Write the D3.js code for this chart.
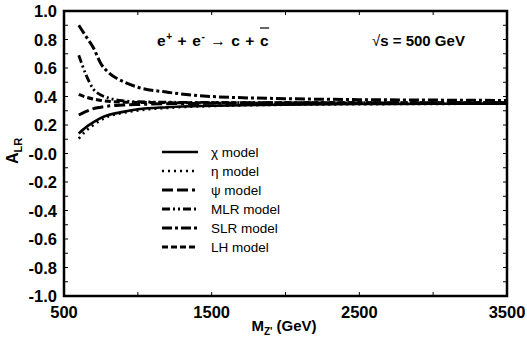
<!DOCTYPE html>
<html><head><meta charset="utf-8">
<script src="https://cdn.jsdelivr.net/npm/d3@7"></script>
<style>body{margin:0;background:#fff}svg{display:block}text{font-family:"Liberation Sans",Arial,sans-serif}</style>
</head><body><svg id="c" width="527" height="341"></svg>
<script>
const masses = [600, 650, 700, 750, 800, 900, 1000, 1200, 1500, 2000, 2500, 3000, 3500];
const chi = [0.14, 0.185, 0.22, 0.25, 0.27, 0.292, 0.31, 0.325, 0.335, 0.343, 0.347, 0.349, 0.35];
const eta = [0.105, 0.16, 0.20, 0.235, 0.26, 0.285, 0.302, 0.32, 0.333, 0.342, 0.346, 0.348, 0.35];
const psi = [0.27, 0.295, 0.315, 0.325, 0.333, 0.34, 0.344, 0.349, 0.352, 0.354, 0.355, 0.355, 0.355];
const mlr = [0.69, 0.55, 0.45, 0.41, 0.39, 0.37, 0.363, 0.36, 0.358, 0.357, 0.357, 0.356, 0.356];
const slr = [0.90, 0.82, 0.74, 0.63, 0.57, 0.505, 0.465, 0.43, 0.40, 0.385, 0.378, 0.375, 0.372];
const lh  = [0.415, 0.395, 0.382, 0.372, 0.366, 0.36, 0.358, 0.357, 0.356, 0.356, 0.356, 0.356, 0.356];
const seriesNames = ["\u03c7 model", "\u03b7 model", "\u03c8 model", "MLR model", "SLR model", "LH model"];
const xTickLabels = [500, 1500, 2500, 3500];
const yTickLabels = ["1.0","0.8","0.6","0.4","0.2","-0.0","-0.2","-0.4","-0.6","-0.8","-1.0"];
const yTickValues = [1,0.8,0.6,0.4,0.2,0,-0.2,-0.4,-0.6,-0.8,-1];

const dashes = [null, "2,4", "11,4,11,4,3,4", "8,3,2,3,2,3", "10,3,3,3", "6,3"];
const widths = [2.6, 2.6, 3, 2.8, 3, 3];
const data = [chi, eta, psi, mlr, slr, lh];

const svg = d3.select("#c");
const L = 64, R = 507, T = 11, B = 296;
const x = d3.scaleLinear().domain([500, 3500]).range([L, R]);
const y = d3.scaleLinear().domain([-1, 1]).range([B, T]);

const g = svg.append("g");
const xt = d3.range(500, 3501, 500);
const yt = d3.range(-10, 11).map(d => d / 10);
xt.forEach(v => {
  g.append("line").attr("x1", x(v)).attr("x2", x(v)).attr("y1", B).attr("y2", B - 4).attr("stroke", "#000").attr("stroke-width", 1);
  g.append("line").attr("x1", x(v)).attr("x2", x(v)).attr("y1", T).attr("y2", T + 4).attr("stroke", "#000").attr("stroke-width", 1);
});
yt.forEach(v => {
  g.append("line").attr("x1", L).attr("x2", L + 4).attr("y1", y(v)).attr("y2", y(v)).attr("stroke", "#000").attr("stroke-width", 1);
  g.append("line").attr("x1", R).attr("x2", R - 4).attr("y1", y(v)).attr("y2", y(v)).attr("stroke", "#000").attr("stroke-width", 1);
});

const line = d3.line().x((d, i) => x(masses[i])).y(d => y(d)).curve(d3.curveMonotoneX);
data.forEach((s, k) => {
  svg.append("path").datum(s).attr("d", line).attr("fill", "none").attr("stroke", "#000")
    .attr("stroke-width", widths[k]).attr("stroke-dasharray", dashes[k]);
});

svg.append("rect").attr("x", L).attr("y", T).attr("width", R - L).attr("height", B - T)
  .attr("fill", "none").attr("stroke", "#000").attr("stroke-width", 2.5);

yTickValues.forEach((v, i) => {
  svg.append("text").attr("x", 57).attr("y", y(v) + 6).attr("text-anchor", "end")
    .attr("font-size", 16.5).attr("font-weight", "bold").text(yTickLabels[i]);
});
xTickLabels.forEach(v => {
  svg.append("text").attr("x", x(v)).attr("y", 318).attr("text-anchor", "middle")
    .attr("font-size", 16.5).attr("font-weight", "bold").text(v);
});

const xl = svg.append("text").attr("x", 284).attr("y", 331).attr("text-anchor", "middle")
  .attr("font-size", 15).attr("font-weight", "bold");
xl.append("tspan").text("M");
xl.append("tspan").attr("font-size", 10).attr("dy", 4).text("Z'");
xl.append("tspan").attr("dy", -4).text(" (GeV)");

const yl = svg.append("text").attr("transform", "translate(18,164) rotate(-90)")
  .attr("font-size", 16).attr("font-weight", "bold");
yl.append("tspan").text("A");
yl.append("tspan").attr("font-size", 11).attr("dy", 4).text("LR");

const pt = svg.append("text").attr("x", 157).attr("y", 46).attr("font-size", 15.5).attr("font-weight", "bold")
  .attr("letter-spacing", 0.6);
pt.append("tspan").text("e");
pt.append("tspan").attr("font-size", 10).attr("dy", -6).text("+");
pt.append("tspan").attr("dy", 6).text(" + e");
pt.append("tspan").attr("font-size", 10).attr("dy", -6).text("-");
pt.append("tspan").attr("dy", 6).attr("font-weight", "normal").text(" \u2192 ");
pt.append("tspan").text("c + c");
const ptn = pt.node();
const nch = ptn.getNumberOfChars();
const cs = ptn.getStartPositionOfChar(nch - 1).x, ce = ptn.getEndPositionOfChar(nch - 1).x;
svg.append("line").attr("x1", cs).attr("x2", ce).attr("y1", 28).attr("y2", 28).attr("stroke", "#000").attr("stroke-width", 1.2);

const st = svg.append("text").attr("x", 372).attr("y", 46).attr("font-size", 15).attr("font-weight", "bold");
st.append("tspan").attr("font-weight", "normal").text("\u221a");
st.append("tspan").text("s = 500 GeV");

const legY = [152, 171, 190, 209, 228, 247];
seriesNames.forEach((n, k) => {
  svg.append("line").attr("x1", 162).attr("x2", 198).attr("y1", legY[k]).attr("y2", legY[k])
    .attr("stroke", "#000").attr("stroke-width", widths[k]).attr("stroke-dasharray", dashes[k]);
  svg.append("text").attr("x", 211).attr("y", legY[k] + 5).attr("font-size", 13.5).text(n);
});
</script></body></html>
